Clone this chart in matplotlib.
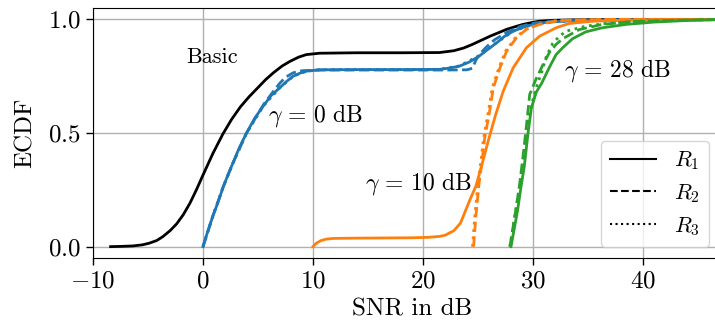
import matplotlib
matplotlib.use("Agg")
import matplotlib.pyplot as plt
from matplotlib.lines import Line2D

plt.rcParams['font.family'] = ['cmr10', 'DejaVu Serif']
plt.rcParams['mathtext.fontset'] = 'cm'
plt.rcParams['axes.formatter.use_mathtext'] = True
plt.rcParams['font.size'] = 18

# ---- data ----
basic_x = [-8.4, -7.5, -6.4, -5.5, -4.9, -4.2, -3.65, -3.0, -2.4, -1.8, -1.2, -0.6, 0, 0.9, 1.8, 2.6,
           3.4, 4.2, 4.9, 5.7, 6.4, 7.2, 7.9, 8.7, 9.4, 10.6, 14, 18, 21.5, 22.8, 23.7, 24.5, 25.3, 26.1,
           26.9, 27.6, 28.4, 29.1, 29.9, 30.6, 32, 34, 37, 48]
basic_y = [0, 0.001, 0.003, 0.008, 0.015, 0.027, 0.044, 0.07, 0.10, 0.14, 0.19, 0.25, 0.315, 0.41,
           0.495, 0.56, 0.615, 0.66, 0.695, 0.735, 0.765, 0.795, 0.815, 0.834, 0.845, 0.851, 0.853, 0.853,
           0.854, 0.862, 0.874, 0.89, 0.908, 0.926, 0.942, 0.956, 0.968, 0.978, 0.986, 0.992, 0.996,
           0.998, 1.0, 1.0]

g0_r1_x = [0, 0.45, 0.9, 1.4, 1.83, 2.3, 2.74, 3.3, 3.96, 4.7, 5.5, 6.2, 7.0, 7.6, 8.2, 8.8, 9.4, 10.6,
           14, 18, 21.5, 22.3, 23.3, 24.2, 25.1, 25.9, 26.7, 27.4, 28.2, 29.1, 30.0, 31.0, 32.1, 34, 37, 48]
g0_r1_y = [0, 0.07, 0.135, 0.2, 0.262, 0.32, 0.37, 0.435, 0.50, 0.565, 0.62, 0.665, 0.70, 0.727, 0.75,
           0.763, 0.772, 0.778, 0.779, 0.779, 0.780, 0.785, 0.794, 0.812, 0.838, 0.868, 0.897, 0.925,
           0.948, 0.965, 0.978, 0.986, 0.99, 0.995, 0.998, 1.0]
g0_r2_x = [0, 0.9, 1.83, 2.74, 3.96, 5.5, 6.5, 7.0, 7.5, 8.2, 9.0, 10.5, 14, 18, 22, 24.0, 24.5, 24.8,
           25.2, 25.8, 26.5, 27.7, 28.8, 30.1, 32, 35, 48]
g0_r2_y = [0, 0.135, 0.262, 0.37, 0.50, 0.625, 0.69, 0.72, 0.745, 0.765, 0.774, 0.777, 0.777, 0.777,
           0.777, 0.778, 0.785, 0.82, 0.85, 0.88, 0.91, 0.945, 0.968, 0.984, 0.993, 0.998, 1.0]
g0_r3_x = [0, 0.9, 1.83, 2.74, 3.96, 5.5, 7.0, 8.2, 9.4, 10.6, 14, 18, 21.5, 23.3, 25.1, 26.7, 28.2,
           30.0, 32.1, 35, 48]
g0_r3_y = [0, 0.135, 0.262, 0.37, 0.50, 0.62, 0.70, 0.75, 0.772, 0.778, 0.779, 0.779, 0.780, 0.795,
           0.84, 0.898, 0.948, 0.978, 0.99, 0.997, 1.0]

g10_r1_x = [10.0, 10.3, 10.7, 11.2, 11.8, 13, 16, 19, 20.5, 21.5, 22.0, 22.8, 23.4, 24.3, 24.8, 25.3,
            25.9, 26.6, 27.3, 28.2, 29.4, 30.6, 32.1, 33.3, 35.5, 38, 41, 48]
g10_r1_y = [0, 0.015, 0.026, 0.033, 0.036, 0.037, 0.038, 0.039, 0.041, 0.045, 0.05, 0.07, 0.103, 0.21,
            0.265, 0.35, 0.46, 0.58, 0.685, 0.787, 0.875, 0.926, 0.963, 0.982, 0.992, 0.996, 0.999, 1.0]
g10_r2_x = [24.6, 24.8, 25.1, 25.35, 25.6, 26.06, 26.4, 27.0, 27.6, 28.5, 29.4, 30.6, 32.1, 34, 37, 48]
g10_r2_y = [0, 0.13, 0.28, 0.37, 0.475, 0.596, 0.70, 0.787, 0.86, 0.919, 0.956, 0.978, 0.993, 0.997,
            1.0, 1.0]
g10_r3_x = [24.5, 24.7, 25.0, 25.25, 25.5, 25.95, 26.3, 26.9, 27.5, 28.4, 29.3, 30.5, 32.0, 34, 37, 48]
g10_r3_y = [0, 0.13, 0.28, 0.37, 0.475, 0.596, 0.70, 0.787, 0.86, 0.919, 0.956, 0.978, 0.993, 0.997,
            1.0, 1.0]

g28_r1_x = [28.0, 28.3, 28.6, 28.9, 29.2, 29.55, 29.85, 30.3, 30.8, 31.5, 32.1, 32.7, 33.6, 34.8, 36.3,
            38.5, 41, 44, 48]
g28_r1_y = [0, 0.08, 0.16, 0.26, 0.35, 0.50, 0.61, 0.68, 0.72, 0.79, 0.845, 0.875, 0.915, 0.945, 0.963,
            0.978, 0.988, 0.995, 1.0]
g28_r2_x = [27.9, 28.2, 28.5, 28.8, 29.1, 29.4, 29.7, 30.3, 30.9, 31.5, 32.1, 32.7, 34.2, 36.3, 39, 43, 48]
g28_r2_y = [0, 0.09, 0.18, 0.28, 0.40, 0.53, 0.67, 0.74, 0.80, 0.855, 0.89, 0.915, 0.955, 0.978, 0.99,
            0.996, 1.0]
g28_r3_x = [27.9, 28.3, 28.7, 29.1, 29.5, 29.9, 30.3, 30.8, 31.2, 31.8, 32.4, 33.0, 34.8, 36.6, 40, 48]
g28_r3_y = [0, 0.12, 0.24, 0.38, 0.52, 0.63, 0.70, 0.77, 0.835, 0.895, 0.925, 0.948, 0.97, 0.982, 0.993, 1.0]

x_ticks = [-10, 0, 10, 20, 30, 40]
y_ticks = [0.0, 0.5, 1.0]
legend_labels = [r'$R_1$', r'$R_2$', r'$R_3$']

# ---- figure ----
W, H = 715, 328
fig = plt.figure(figsize=(W / 100, H / 100), dpi=100)
x_lo, x_hi = -10, 48
px_per_unit = 11.0
left_px, bottom_px, top_px = 93, 258, 8
ax_w = (x_hi - x_lo) * px_per_unit
ax = fig.add_axes([left_px / W, 1 - bottom_px / H, ax_w / W, (bottom_px - top_px) / H])

blue, orange, green = '#1f77b4', '#ff7f0e', '#2ca02c'
lw = 2.0
ax.plot(basic_x, basic_y, color='black', lw=lw, ls='-')
ax.plot(g0_r1_x, g0_r1_y, color=blue, lw=lw, ls='-')
ax.plot(g0_r3_x, g0_r3_y, color=blue, lw=lw, ls=':')
ax.plot(g0_r2_x, g0_r2_y, color=blue, lw=lw, ls='--')
ax.plot(g10_r1_x, g10_r1_y, color=orange, lw=lw, ls='-')
ax.plot(g10_r3_x, g10_r3_y, color=orange, lw=lw, ls=':')
ax.plot(g10_r2_x, g10_r2_y, color=orange, lw=lw, ls='--')
ax.plot(g28_r1_x, g28_r1_y, color=green, lw=lw, ls='-')
ax.plot(g28_r3_x, g28_r3_y, color=green, lw=lw, ls=':')
ax.plot(g28_r2_x, g28_r2_y, color=green, lw=lw, ls='--')

ax.set_xlim(x_lo, x_hi)
ax.set_ylim(-0.05, 1.05)
ax.set_xticks(x_ticks)
ax.set_xticklabels([f'${v}$' for v in x_ticks])
ax.set_yticks(y_ticks)
ax.set_yticklabels([f'${v:.1f}$' for v in y_ticks])
ax.grid(True, color='#b0b0b0', lw=1.0)
ax.set_axisbelow(True)
ax.spines['right'].set_visible(False)
ax.tick_params(length=5, width=1, labelsize=18, pad=4)

ax.set_xlabel('SNR in dB', fontsize=18, labelpad=4)
ax.set_ylabel('ECDF', fontsize=18, labelpad=8)

ax.text(0.86, 0.832, 'Basic', fontsize=16, ha='center', va='center')
ax.text(10.25, 0.576, r'$\gamma\, =\, 0\ \mathrm{dB}$', fontsize=17, ha='center', va='center')
ax.text(19.6, 0.279, r'$\gamma\, =\, 10\ \mathrm{dB}$', fontsize=17, ha='center', va='center')
ax.text(37.65, 0.777, r'$\gamma\, =\, 28\ \mathrm{dB}$', fontsize=17, ha='center', va='center')

handles = [Line2D([], [], color='black', lw=1.5, ls=s) for s in ['-', '--', ':']]
fig.legend(handles, legend_labels, loc='lower right',
           bbox_to_anchor=(709 / W, 1 - 246.7 / H), bbox_transform=fig.transFigure,
           borderaxespad=0, fontsize=16, framealpha=0.8, edgecolor='#cccccc',
           handlelength=2.1, labelspacing=0.45, borderpad=0.4)

fig.savefig('out.png', dpi=100)
